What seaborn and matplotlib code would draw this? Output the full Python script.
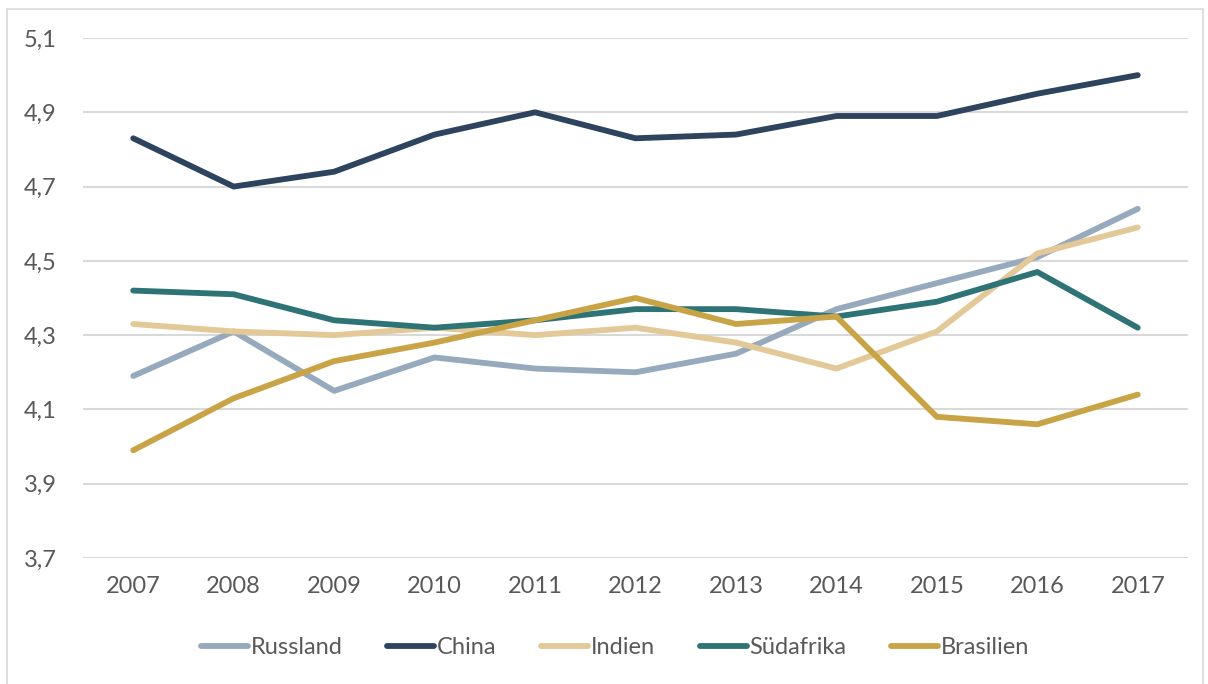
import pandas as pd
import numpy as np
import matplotlib.pyplot as plt
import seaborn as sns
from matplotlib.patches import Rectangle

years = [2007, 2008, 2009, 2010, 2011, 2012, 2013, 2014, 2015, 2016, 2017]
russland = [4.19, 4.31, 4.15, 4.24, 4.21, 4.20, 4.25, 4.37, 4.44, 4.51, 4.64]
china = [4.83, 4.70, 4.74, 4.84, 4.90, 4.83, 4.84, 4.89, 4.89, 4.95, 5.00]
indien = [4.33, 4.31, 4.30, 4.32, 4.30, 4.32, 4.28, 4.21, 4.31, 4.52, 4.59]
suedafrika = [4.42, 4.41, 4.34, 4.32, 4.34, 4.37, 4.37, 4.35, 4.39, 4.47, 4.32]
brasilien = [3.99, 4.13, 4.23, 4.28, 4.34, 4.40, 4.33, 4.35, 4.08, 4.06, 4.14]

series = {'Russland': russland, 'China': china, 'Indien': indien,
          'Südafrika': suedafrika, 'Brasilien': brasilien}
palette = {'Russland': '#97A9BC', 'China': '#2E445E', 'Indien': '#E3C898',
           'Südafrika': '#2E7375', 'Brasilien': '#C9A447'}

df = pd.concat([pd.DataFrame({'Jahr': years, 'Wert': v, 'Land': k}) for k, v in series.items()])

sns.set_style('white')
plt.rcParams['font.family'] = ['Lato', 'DejaVu Sans']
text_color = '#595959'

fig = plt.figure(figsize=(12.08, 6.84), dpi=100)
ax = fig.add_axes([83 / 1208, 1 - 558 / 684, (1188 - 83) / 1208, (558 - 38) / 684])

sns.lineplot(data=df, x='Jahr', y='Wert', hue='Land', palette=palette, linewidth=4.2,
             solid_capstyle='round', ax=ax, legend=True)

ax.set_xlim(2006.5, 2017.5)
ax.set_ylim(3.7, 5.1)
yt = np.arange(3.7, 5.11, 0.2)
ax.set_yticks(yt)
ax.set_yticklabels([f'{v:.1f}'.replace('.', ',') for v in yt])
ax.set_xticks(years)
ax.set_xticklabels([str(y) for y in years])
ax.grid(axis='y', color='#D9D9D9', linewidth=1.5)
ax.set_axisbelow(True)
for s in ax.spines.values():
    s.set_visible(False)
ax.tick_params(axis='both', length=0, labelsize=17, colors=text_color)
ax.tick_params(axis='y', pad=19)
ax.tick_params(axis='x', pad=13)
ax.set_xlabel('')
ax.set_ylabel('')

handles, labels = ax.get_legend_handles_labels()
leg = fig.legend(handles, labels, loc='center', bbox_to_anchor=(615 / 1208, 1 - 648 / 684), ncol=5,
                 frameon=False, fontsize=17, handlelength=2.0, handletextpad=0.1,
                 columnspacing=1.9, labelcolor=text_color)
ax.get_legend().remove()

fig.patches.append(Rectangle((7 / 1208, -0.1), (1203 - 7) / 1208, 1.1 - 9 / 684,
                             transform=fig.transFigure, fill=False,
                             edgecolor='#D9D9D9', linewidth=1.2))

fig.savefig('out.png', dpi=100)
